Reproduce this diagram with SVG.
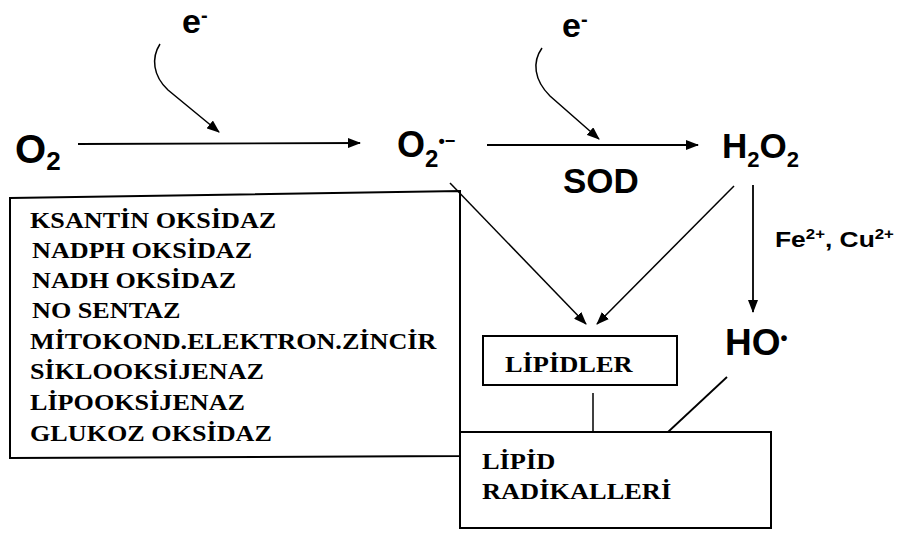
<svg xmlns="http://www.w3.org/2000/svg" width="899" height="535" viewBox="0 0 899 535">
<style>
.sans{font-family:"Liberation Sans",Arial,sans-serif;font-weight:bold;fill:#000}
.serif{font-family:"Liberation Serif","Times New Roman",serif;font-weight:bold;fill:#000;font-size:24px}
.box{fill:#fff;stroke:#000;stroke-width:2}
.ln{fill:none;stroke:#000;stroke-width:1.8}
.thin{fill:none;stroke:#000;stroke-width:1.5}
</style>
<defs>
<marker id="ah" markerUnits="userSpaceOnUse" markerWidth="14" markerHeight="10" refX="12" refY="5" orient="auto">
<path d="M0,0 L13,5 L0,10 Z" fill="#000"/>
</marker>
</defs>
<rect width="899" height="535" fill="#fff"/>

<g id="enzymes">
<polygon class="box" points="10,198 460,191 460,456 10,458"/>
<text class="serif" transform="translate(30,228) scale(1.09,1)">KSANTİN OKSİDAZ</text>
<text class="serif" transform="translate(32,258) scale(1.09,1)">NADPH OKSİDAZ</text>
<text class="serif" transform="translate(32,288) scale(1.09,1)">NADH OKSİDAZ</text>
<text class="serif" transform="translate(32,318) scale(1.09,1)">NO SENTAZ</text>
<text class="serif" transform="translate(30,349) scale(1.09,1)">MİTOKOND.ELEKTRON.ZİNCİR</text>
<text class="serif" transform="translate(30,379) scale(1.09,1)">SİKLOOKSİJENAZ</text>
<text class="serif" transform="translate(30,410) scale(1.09,1)">LİPOOKSİJENAZ</text>
<text class="serif" transform="translate(30,441) scale(1.09,1)">GLUKOZ OKSİDAZ</text>
</g>

<g id="lipidler">
<rect class="box" x="483" y="336" width="194" height="49"/>
<text class="serif" transform="translate(505,372) scale(1.1,1)">LİPİDLER</text>
</g>

<g id="lipid-radikalleri">
<rect class="box" x="460" y="432" width="311" height="96"/>
<text class="serif" transform="translate(482,469) scale(1.1,1)">LİPİD</text>
<text class="serif" transform="translate(482,499) scale(1.1,1)">RADİKALLERİ</text>
</g>

<g id="o2">
<text class="sans" x="15" y="163" font-size="40">O<tspan font-size="26" y="170">2</tspan></text>
</g>

<g id="superoxide">
<text class="sans" x="397" y="157" font-size="36">O<tspan font-size="24" y="167">2</tspan><tspan font-size="18" y="147">•−</tspan></text>
</g>

<g id="h2o2">
<text class="sans" x="722" y="158" font-size="35">H<tspan font-size="22" y="167">2</tspan><tspan y="158">O</tspan><tspan font-size="22" y="167">2</tspan></text>
</g>

<g id="ho">
<text class="sans" x="725" y="355" font-size="37">HO<tspan font-size="20" y="345">•</tspan></text>
</g>

<g id="e1">
<text class="sans" x="182" y="33" font-size="34">e<tspan font-size="20" y="22">-</tspan></text>
</g>
<g id="e2">
<text class="sans" x="562" y="37" font-size="34">e<tspan font-size="20" y="26">-</tspan></text>
</g>

<g id="sod">
<text class="sans" x="563" y="193" font-size="35">SOD</text>
</g>

<g id="metals">
<text class="sans" font-size="22" transform="translate(775,247) scale(1.2,1)">Fe<tspan font-size="14" dy="-8">2+</tspan><tspan dy="8">, Cu</tspan><tspan font-size="14" dy="-8">2+</tspan></text>
</g>

<g id="connectors">
<path class="ln" d="M78,144 L360,143" marker-end="url(#ah)"/>
<path class="ln" d="M487,145 L698,145" marker-end="url(#ah)"/>
<path class="thin" d="M160,44 C151,58 153,76 168,90 L219,132" marker-end="url(#ah)"/>
<path class="thin" d="M542,48 C532,62 534,80 550,96 L599,139" marker-end="url(#ah)"/>
<path class="thin" d="M450,183 L586,324" marker-end="url(#ah)"/>
<path class="thin" d="M734,186 L597,324" marker-end="url(#ah)"/>
<path class="ln" d="M753,185 L753,312" marker-end="url(#ah)"/>
<path class="thin" d="M593,393 L593,432"/>
<path class="ln" d="M727,377 L668,432"/>
</g>
</svg>
